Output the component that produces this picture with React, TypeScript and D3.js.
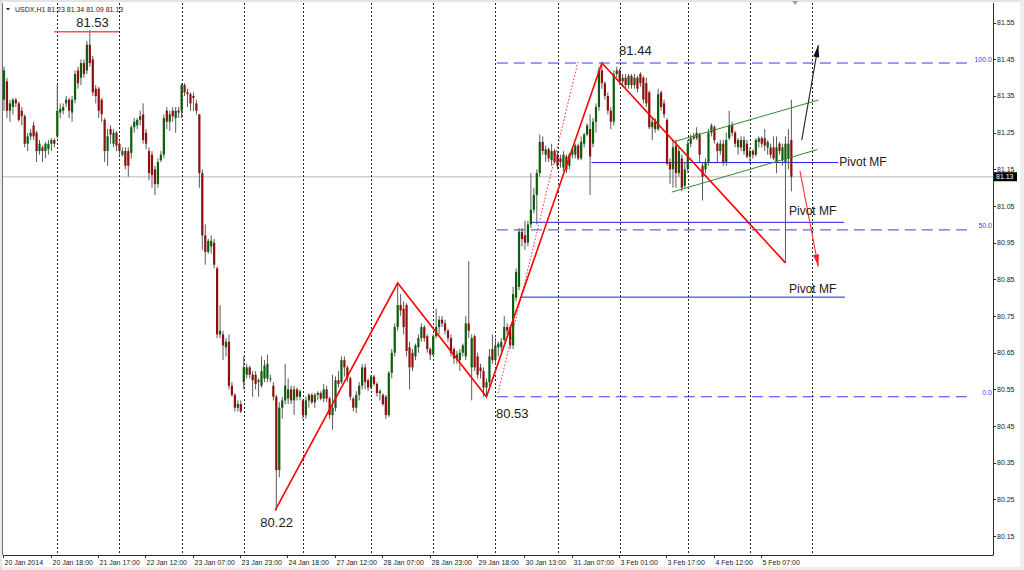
import React from "react";
import * as d3 from "d3";

type Candle = [number, number, number, number]; // open, high, low, close

// ---- Hourly candles, one array per trading day ----
const d20Jan: Candle[] = [
  [81.34, 81.43, 81.31, 81.42], [81.39, 81.40, 81.29, 81.31], [81.31, 81.34, 81.28, 81.33],
  [81.32, 81.345, 81.30, 81.34], [81.34, 81.345, 81.32, 81.33], [81.33, 81.335, 81.28, 81.285],
  [81.31, 81.32, 81.27, 81.295], [81.295, 81.30, 81.21, 81.22], [81.22, 81.25, 81.20, 81.24],
  [81.24, 81.26, 81.23, 81.25], [81.27, 81.28, 81.23, 81.24], [81.25, 81.255, 81.17, 81.20],
  [81.20, 81.23, 81.19, 81.22], [81.21, 81.215, 81.17, 81.20], [81.20, 81.225, 81.18, 81.22],
  [81.205, 81.23, 81.19, 81.22], [81.22, 81.235, 81.20, 81.23], [81.23, 81.235, 81.21, 81.22],
];
const d21Jan: Candle[] = [
  [81.24, 81.38, 81.235, 81.31], [81.305, 81.33, 81.29, 81.315], [81.31, 81.33, 81.30, 81.32],
  [81.33, 81.35, 81.32, 81.34], [81.34, 81.345, 81.29, 81.31], [81.305, 81.35, 81.28, 81.34],
  [81.34, 81.42, 81.33, 81.41], [81.42, 81.43, 81.37, 81.385], [81.40, 81.45, 81.38, 81.44],
  [81.44, 81.45, 81.40, 81.41], [81.42, 81.50, 81.41, 81.49], [81.49, 81.53, 81.43, 81.44],
  [81.45, 81.46, 81.35, 81.36], [81.37, 81.38, 81.33, 81.35], [81.37, 81.375, 81.29, 81.31],
  [81.34, 81.345, 81.28, 81.30], [81.285, 81.29, 81.17, 81.20], [81.20, 81.26, 81.16, 81.24],
  [81.26, 81.27, 81.22, 81.245], [81.22, 81.26, 81.21, 81.25], [81.25, 81.255, 81.20, 81.215],
];
const d22Jan: Candle[] = [
  [81.22, 81.225, 81.19, 81.20], [81.19, 81.21, 81.185, 81.20], [81.20, 81.21, 81.15, 81.16],
  [81.20, 81.21, 81.13, 81.16], [81.195, 81.27, 81.18, 81.265], [81.265, 81.29, 81.25, 81.28],
  [81.27, 81.29, 81.26, 81.285], [81.285, 81.31, 81.27, 81.295], [81.30, 81.33, 81.22, 81.23],
  [81.25, 81.26, 81.205, 81.22], [81.20, 81.21, 81.12, 81.14], [81.19, 81.20, 81.10, 81.135],
  [81.15, 81.16, 81.08, 81.11], [81.11, 81.18, 81.10, 81.17], [81.175, 81.20, 81.17, 81.19],
  [81.19, 81.30, 81.18, 81.29], [81.31, 81.32, 81.26, 81.28], [81.28, 81.31, 81.255, 81.30],
  [81.31, 81.32, 81.28, 81.295], [81.29, 81.32, 81.25, 81.31], [81.31, 81.32, 81.29, 81.305],
];
const d23Jan: Candle[] = [
  [81.31, 81.385, 81.29, 81.38], [81.38, 81.385, 81.35, 81.36], [81.36, 81.37, 81.32, 81.355],
  [81.355, 81.36, 81.31, 81.33], [81.35, 81.36, 81.31, 81.345], [81.33, 81.34, 81.30, 81.31],
  [81.30, 81.30, 81.10, 81.14], [81.14, 81.15, 80.93, 80.97], [80.97, 81.00, 80.89, 80.925],
  [80.925, 80.96, 80.92, 80.955], [80.94, 80.97, 80.92, 80.955], [80.95, 80.96, 80.88, 80.89],
  [80.88, 80.885, 80.69, 80.70], [80.70, 80.78, 80.69, 80.71], [80.70, 80.71, 80.63, 80.67],
  [80.665, 80.69, 80.64, 80.68], [80.68, 80.70, 80.55, 80.56], [80.56, 80.57, 80.53, 80.535],
  [80.535, 80.54, 80.49, 80.50], [80.50, 80.52, 80.49, 80.51], [80.51, 80.52, 80.485, 80.49],
];
const d24Jan: Candle[] = [
  [80.57, 80.64, 80.55, 80.61], [80.59, 80.62, 80.58, 80.61], [80.61, 80.615, 80.58, 80.59],
  [80.59, 80.60, 80.53, 80.575], [80.59, 80.60, 80.55, 80.565], [80.57, 80.58, 80.53, 80.575],
  [80.56, 80.64, 80.555, 80.60], [80.58, 80.63, 80.57, 80.615], [80.58, 80.645, 80.57, 80.62],
  [80.58, 80.59, 80.57, 80.58], [80.56, 80.57, 80.52, 80.53], [80.53, 80.535, 80.22, 80.33],
  [80.33, 80.515, 80.31, 80.50], [80.50, 80.53, 80.47, 80.52], [80.52, 80.62, 80.51, 80.56],
  [80.525, 80.58, 80.51, 80.55], [80.55, 80.56, 80.51, 80.52], [80.52, 80.56, 80.48, 80.55],
  [80.55, 80.555, 80.52, 80.53], [80.53, 80.55, 80.52, 80.545],
];
const d27Jan: Candle[] = [
  [80.52, 80.525, 80.47, 80.48], [80.48, 80.53, 80.47, 80.52], [80.52, 80.54, 80.50, 80.535],
  [80.535, 80.54, 80.51, 80.515], [80.515, 80.54, 80.50, 80.535], [80.535, 80.545, 80.52, 80.54],
  [80.54, 80.545, 80.52, 80.525], [80.525, 80.565, 80.515, 80.55], [80.55, 80.56, 80.515, 80.525],
  [80.525, 80.53, 80.47, 80.48], [80.48, 80.59, 80.44, 80.50], [80.50, 80.585, 80.49, 80.575],
  [80.575, 80.60, 80.555, 80.565], [80.57, 80.64, 80.565, 80.63], [80.63, 80.64, 80.585, 80.61],
  [80.61, 80.615, 80.57, 80.58], [80.58, 80.585, 80.52, 80.53], [80.525, 80.53, 80.49, 80.50],
  [80.50, 80.545, 80.485, 80.535], [80.535, 80.57, 80.52, 80.56], [80.56, 80.62, 80.55, 80.61],
  [80.61, 80.62, 80.55, 80.57], [80.575, 80.58, 80.545, 80.555],
];
const d28Jan: Candle[] = [
  [80.555, 80.59, 80.55, 80.585], [80.585, 80.59, 80.56, 80.565], [80.565, 80.57, 80.53, 80.54],
  [80.54, 80.55, 80.52, 80.545], [80.535, 80.54, 80.505, 80.51], [80.53, 80.535, 80.47, 80.48],
  [80.48, 80.60, 80.475, 80.595], [80.595, 80.66, 80.58, 80.65], [80.65, 80.73, 80.64, 80.72],
  [80.72, 80.84, 80.71, 80.78], [80.78, 80.81, 80.75, 80.765], [80.77, 80.79, 80.70, 80.72],
  [80.78, 80.785, 80.64, 80.655], [80.665, 80.68, 80.55, 80.61], [80.65, 80.66, 80.60, 80.61],
  [80.64, 80.675, 80.63, 80.67], [80.665, 80.70, 80.65, 80.69], [80.69, 80.73, 80.68, 80.72],
  [80.72, 80.725, 80.68, 80.69], [80.695, 80.70, 80.65, 80.66], [80.66, 80.665, 80.63, 80.645],
];
const d29Jan: Candle[] = [
  [80.645, 80.70, 80.64, 80.695], [80.695, 80.77, 80.69, 80.72], [80.72, 80.75, 80.70, 80.74],
  [80.74, 80.75, 80.72, 80.73], [80.73, 80.74, 80.70, 80.71], [80.71, 80.715, 80.68, 80.69],
  [80.69, 80.70, 80.64, 80.65], [80.66, 80.665, 80.62, 80.635], [80.635, 80.655, 80.62, 80.645],
  [80.63, 80.66, 80.60, 80.65], [80.65, 80.675, 80.64, 80.67], [80.64, 80.75, 80.63, 80.73],
  [80.73, 80.90, 80.69, 80.71], [80.61, 80.70, 80.52, 80.69], [80.695, 80.70, 80.60, 80.61],
  [80.64, 80.65, 80.58, 80.59], [80.61, 80.62, 80.58, 80.60], [80.60, 80.61, 80.53, 80.555],
  [80.555, 80.58, 80.53, 80.57], [80.57, 80.66, 80.56, 80.64], [80.66, 80.70, 80.62, 80.63],
];
const d30Jan: Candle[] = [
  [80.63, 80.69, 80.62, 80.67], [80.665, 80.68, 80.64, 80.675], [80.665, 80.69, 80.655, 80.68],
  [80.685, 80.75, 80.68, 80.72], [80.72, 80.73, 80.70, 80.71], [80.72, 80.725, 80.66, 80.67],
  [80.67, 80.83, 80.66, 80.81], [80.80, 80.88, 80.79, 80.87], [80.83, 80.99, 80.82, 80.98],
  [80.98, 80.99, 80.94, 80.96], [80.97, 81.01, 80.93, 80.95], [80.95, 81.01, 80.94, 81.00],
  [81.00, 81.14, 80.99, 81.04], [81.04, 81.10, 81.03, 81.08], [81.08, 81.15, 81.00, 81.14],
  [81.14, 81.245, 81.13, 81.225], [81.225, 81.24, 81.19, 81.20], [81.19, 81.215, 81.17, 81.205],
  [81.205, 81.21, 81.17, 81.18], [81.175, 81.22, 81.16, 81.20], [81.20, 81.205, 81.165, 81.17],
];
const d31Jan: Candle[] = [
  [81.19, 81.20, 81.15, 81.16], [81.18, 81.19, 81.155, 81.17], [81.155, 81.20, 81.145, 81.19],
  [81.185, 81.19, 81.14, 81.15], [81.16, 81.195, 81.15, 81.19], [81.19, 81.21, 81.18, 81.205],
  [81.19, 81.22, 81.18, 81.215], [81.215, 81.22, 81.175, 81.18], [81.18, 81.24, 81.175, 81.225],
  [81.22, 81.25, 81.21, 81.245], [81.245, 81.275, 81.24, 81.27], [81.26, 81.30, 81.08, 81.185],
  [81.22, 81.29, 81.21, 81.28], [81.28, 81.33, 81.25, 81.32], [81.32, 81.43, 81.31, 81.42],
  [81.42, 81.44, 81.37, 81.385], [81.385, 81.39, 81.34, 81.35], [81.35, 81.36, 81.30, 81.31],
  [81.31, 81.32, 81.26, 81.28], [81.28, 81.42, 81.27, 81.41], [81.41, 81.43, 81.40, 81.42],
];
const d03Feb: Candle[] = [
  [81.42, 81.425, 81.38, 81.39], [81.39, 81.41, 81.375, 81.40], [81.40, 81.41, 81.37, 81.38],
  [81.38, 81.41, 81.37, 81.405], [81.405, 81.41, 81.37, 81.38], [81.38, 81.41, 81.37, 81.40],
  [81.40, 81.405, 81.36, 81.37], [81.41, 81.415, 81.375, 81.385], [81.40, 81.405, 81.33, 81.34],
  [81.385, 81.40, 81.32, 81.33], [81.36, 81.365, 81.26, 81.265], [81.265, 81.29, 81.23, 81.28],
  [81.28, 81.29, 81.25, 81.26], [81.26, 81.37, 81.255, 81.355], [81.36, 81.365, 81.31, 81.32],
  [81.33, 81.34, 81.29, 81.30], [81.285, 81.29, 81.16, 81.165], [81.17, 81.18, 81.11, 81.15],
  [81.15, 81.23, 81.10, 81.21], [81.215, 81.23, 81.10, 81.14], [81.14, 81.21, 81.13, 81.20],
  [81.18, 81.19, 81.09, 81.10], [81.105, 81.17, 81.10, 81.15],
];
const d04Feb: Candle[] = [
  [81.15, 81.23, 81.14, 81.22], [81.22, 81.245, 81.21, 81.235], [81.24, 81.25, 81.23, 81.235],
  [81.235, 81.265, 81.23, 81.25], [81.245, 81.25, 81.17, 81.19], [81.16, 81.17, 81.065, 81.13],
  [81.15, 81.18, 81.14, 81.17], [81.17, 81.26, 81.16, 81.25], [81.25, 81.275, 81.24, 81.27],
  [81.265, 81.27, 81.22, 81.23], [81.22, 81.225, 81.17, 81.20], [81.20, 81.23, 81.19, 81.22],
  [81.22, 81.23, 81.16, 81.17], [81.17, 81.25, 81.16, 81.23], [81.235, 81.31, 81.23, 81.27],
  [81.27, 81.28, 81.24, 81.25], [81.25, 81.255, 81.21, 81.22], [81.21, 81.235, 81.19, 81.23],
  [81.23, 81.24, 81.20, 81.21], [81.20, 81.24, 81.19, 81.23], [81.22, 81.23, 81.18, 81.185],
];
const d05Feb: Candle[] = [
  [81.185, 81.21, 81.17, 81.20], [81.20, 81.205, 81.18, 81.19], [81.19, 81.235, 81.185, 81.23],
  [81.225, 81.24, 81.21, 81.235], [81.235, 81.24, 81.21, 81.22], [81.235, 81.26, 81.20, 81.215],
  [81.21, 81.23, 81.19, 81.225], [81.21, 81.22, 81.18, 81.19], [81.21, 81.24, 81.175, 81.18],
  [81.17, 81.24, 81.14, 81.21], [81.22, 81.225, 81.19, 81.20], [81.175, 81.22, 81.16, 81.21],
  [81.17, 81.24, 80.895, 81.22], [81.18, 81.26, 81.15, 81.22], [81.23, 81.34, 81.09, 81.13],
];

const tradingDays = [d20Jan, d21Jan, d22Jan, d23Jan, d24Jan, d27Jan, d28Jan, d29Jan, d30Jan, d31Jan, d03Feb, d04Feb, d05Feb];
const candles: Candle[] = tradingDays.flat();

// ---- Axes ----
const timeLabels = [
  "20 Jan 2014", "20 Jan 18:00", "21 Jan 17:00", "22 Jan 12:00", "23 Jan 07:00", "23 Jan 23:00",
  "24 Jan 18:00", "27 Jan 12:00", "28 Jan 07:00", "28 Jan 23:00", "29 Jan 18:00", "30 Jan 13:00",
  "31 Jan 07:00", "3 Feb 01:00", "3 Feb 17:00", "4 Feb 12:00", "5 Feb 07:00",
];
const timeLabelIdx = [0, 16, 32, 48, 64, 80, 96, 112, 128, 144, 160, 176, 192, 208, 224, 240, 256];
const priceTicks = [81.55, 81.45, 81.35, 81.25, 81.15, 81.05, 80.95, 80.85, 80.75, 80.65, 80.55, 80.45, 80.35, 80.25, 80.15];
const separatorIdx = [18, 39, 60, 81, 101, 124, 145, 166, 187, 208, 231, 252, 273];

// ---- Drawn objects ----
const fibLabels = ["100.0", "50.0", "0.0"];
const fibPrices = [81.44, 80.985, 80.53];
const fibStartIdx = 166.5;

const zigzag: [number, number][] = [[91.6, 80.22], [133, 80.84], [163, 80.53], [202, 81.44], [264, 80.895]];
const redDotted: [number, number][] = [[166.9, 80.54], [193.9, 81.443]];
const highLine: [number, number, number] = [16.9, 38.9, 81.525];

const extremeLabels = ["81.53", "81.44", "80.53", "80.22"];
const extremeIdx = [29.9, 207.8, 166.2, 92.1];
const extremePrice = [81.538, 81.462, 80.472, 80.175];
const extremeAnchor = ["middle", "start", "start", "middle"];

const pivotPrices = [81.17, 81.007, 80.803];
const pivotFrom = [198.5, 177.7, 174.7];
const pivotTo = [281.8, 283.8, 284.1];
const pivotLabelIdx = [282.2, 265.2, 265.2];
const pivotLabelPrice = [81.159, 81.026, 80.813];

const channelUpper: [number, number][] = [[226.1, 81.225], [275.1, 81.339]];
const channelLower: [number, number][] = [[225.6, 81.088], [274.8, 81.204]];
const upArrow: [number, number][] = [[269.5, 81.23], [275.1, 81.489]];
const downArrow: [number, number][] = [[268.9, 81.146], [275.1, 80.885]];

// ---- Layout ----
const W = 1024, H = 570;
const PL = 3, PR = 993, PT = 3, PB = 555;
const STEP = 2.96;
const X0 = 4;
const FONT = "'Liberation Sans', Arial, sans-serif";

const x = d3.scaleLinear().domain([0, 266]).range([X0, X0 + 266 * STEP]);
const y = d3.scaleLinear().domain([80.15, 81.55]).range([536.1, 22.7]);

function arrowHead(p0: [number, number], p1: [number, number], len = 12, half = 3) {
  const x0 = x(p0[0]), y0 = y(p0[1]), x1 = x(p1[0]), y1 = y(p1[1]);
  const a = Math.atan2(y1 - y0, x1 - x0);
  const bx = x1 - len * Math.cos(a), by = y1 - len * Math.sin(a);
  const nx = -Math.sin(a) * half, ny = Math.cos(a) * half;
  return `${x1},${y1} ${bx + nx},${by + ny} ${bx - nx},${by - ny}`;
}

export default function App() {
  const last = candles[candles.length - 1];
  const header = `USDX,H1  ${last.map((v) => v.toFixed(2)).join(" ")}`;
  const line = d3.line<[number, number]>().x((d) => x(d[0])).y((d) => y(d[1]));

  return (
    <svg
      width={W}
      height={H}
      viewBox={`0 0 ${W} ${H}`}
      style={{ position: "absolute", left: 0, top: 0, display: "block", background: "#fff" }}
      fontFamily={FONT}
    >
      {/* window frame */}
      <rect x={0} y={0} width={W} height={H} fill="#ffffff" />
      <rect x={0} y={0} width={W} height={2} fill="#e4e4e4" />
      <rect x={0} y={567} width={W} height={3} fill="#efefef" />
      <rect x={1020} y={0} width={4} height={H} fill="#efefef" />
      <line x1={1} y1={0} x2={1} y2={H} stroke="#d0d0d0" />
      <line x1={PL - 0.5} y1={PT} x2={PL - 0.5} y2={PB} stroke="#6e6e6e" />

      {/* current price line */}
      <line x1={PL} x2={PR} y1={y(last[3])} y2={y(last[3])} stroke="#cfcfcf" strokeWidth={1.6} />

      {/* day separators */}
      {separatorIdx.map((i) => {
        const xx = Math.round(x(i)) + 0.5;
        return <line key={i} x1={xx} x2={xx} y1={PT} y2={PB} stroke="#222" strokeDasharray="2 2" strokeWidth={1} />;
      })}

      {/* fibonacci levels */}
      {fibPrices.map((p, k) => (
        <g key={k}>
          <line x1={x(fibStartIdx)} x2={PR - 20} y1={y(p)} y2={y(p)} stroke="#3a3aff" strokeWidth={1} strokeDasharray="11 6" />
          <text x={PR - 1} y={y(p) - 1.5} fontSize={7} fill="#3a3aff" textAnchor="end">{fibLabels[k]}</text>
        </g>
      ))}

      {/* pivot lines */}
      {pivotPrices.map((p, k) => (
        <line key={k} x1={x(pivotFrom[k])} x2={x(pivotTo[k])} y1={y(p) + 0.5} y2={y(p) + 0.5} stroke="#1c1cf0" strokeWidth={1} />
      ))}

      {/* candles */}
      {candles.map((c, i) => {
        const [o, h, l, cl] = c;
        const cx = x(i);
        const up = cl >= o;
        const top = y(Math.max(o, cl));
        const bh = Math.max(1, Math.abs(y(o) - y(cl)));
        return (
          <g key={i}>
            <line x1={cx} x2={cx} y1={y(h)} y2={y(l)} stroke="#5a5a5a" strokeWidth={1} />
            <rect x={cx - 1.1} y={top} width={2.2} height={bh} fill={up ? "#0b5e0b" : "#8e0f0f"} />
          </g>
        );
      })}

      {/* red high line 81.53 */}
      <line x1={x(highLine[0])} x2={x(highLine[1])} y1={y(highLine[2])} y2={y(highLine[2])} stroke="#ff5050" strokeWidth={1.5} />

      {/* green channel */}
      <path d={line(channelUpper) || ""} stroke="#2e8b2e" strokeWidth={1} fill="none" />
      <path d={line(channelLower) || ""} stroke="#2e8b2e" strokeWidth={1} fill="none" />

      {/* zigzag and dotted */}
      <path d={line(redDotted) || ""} stroke="#ff2a2a" strokeWidth={1} strokeDasharray="1.5 2" fill="none" />
      <path d={line(zigzag) || ""} stroke="#ff0000" strokeWidth={1.6} fill="none" strokeLinejoin="miter" />

      {/* arrows */}
      <path d={line(upArrow) || ""} stroke="#222" strokeWidth={1.1} fill="none" />
      <polygon points={arrowHead(upArrow[0], upArrow[1])} fill="#111" />
      <path d={line(downArrow) || ""} stroke="#ff3030" strokeWidth={1.1} fill="none" />
      <polygon points={arrowHead(downArrow[0], downArrow[1])} fill="#ff2020" />

      {/* annotation texts */}
      {extremeLabels.map((t, k) => (
        <text key={t} x={x(extremeIdx[k])} y={y(extremePrice[k])} fontSize={13} fill="#1a1a1a" textAnchor={extremeAnchor[k] as any}>{t}</text>
      ))}
      {pivotPrices.map((_, k) => (
        <text key={k} x={x(pivotLabelIdx[k])} y={y(pivotLabelPrice[k])} fontSize={12} fill="#1a1a1a">Pivot MF</text>
      ))}

      {/* axes */}
      <line x1={PR + 0.5} x2={PR + 0.5} y1={PT} y2={PB} stroke="#2a2a2a" />
      <line x1={PL} x2={PR + 0.5} y1={PB + 0.5} y2={PB + 0.5} stroke="#2a2a2a" />
      {priceTicks.map((p) => (
        <g key={p}>
          <line x1={PR} x2={PR + 3} y1={Math.round(y(p)) + 0.5} y2={Math.round(y(p)) + 0.5} stroke="#2a2a2a" />
          <text x={PR + 4} y={y(p)} dy="0.35em" fontSize={7} fill="#222">{p.toFixed(2)}</text>
        </g>
      ))}
      {timeLabels.map((t, k) => {
        const xx = Math.round(x(timeLabelIdx[k]) - 0.7) + 0.5;
        return (
          <g key={t}>
            <line x1={xx} x2={xx} y1={PB} y2={PB + 3} stroke="#2a2a2a" />
            <text x={xx + 1} y={565} fontSize={7} fill="#222">{t}</text>
          </g>
        );
      })}

      {/* current price tag */}
      <rect x={PR + 1} y={y(last[3]) - 4.5} width={23} height={9} fill="#000" />
      <text x={PR + 3} y={y(last[3])} dy="0.35em" fontSize={7} fill="#fff">{last[3].toFixed(2)}</text>

      {/* header */}
      <polygon points="6,8 10,8 8,10.5" fill="#222" />
      <text x={15} y={11.5} fontSize={7} fill="#222">{header}</text>

      {/* chart shift marker */}
      <polygon points={`${x(267.3) - 3},1 ${x(267.3) + 3},1 ${x(267.3)},5`} fill="#a0a0a0" />
    </svg>
  );
}
